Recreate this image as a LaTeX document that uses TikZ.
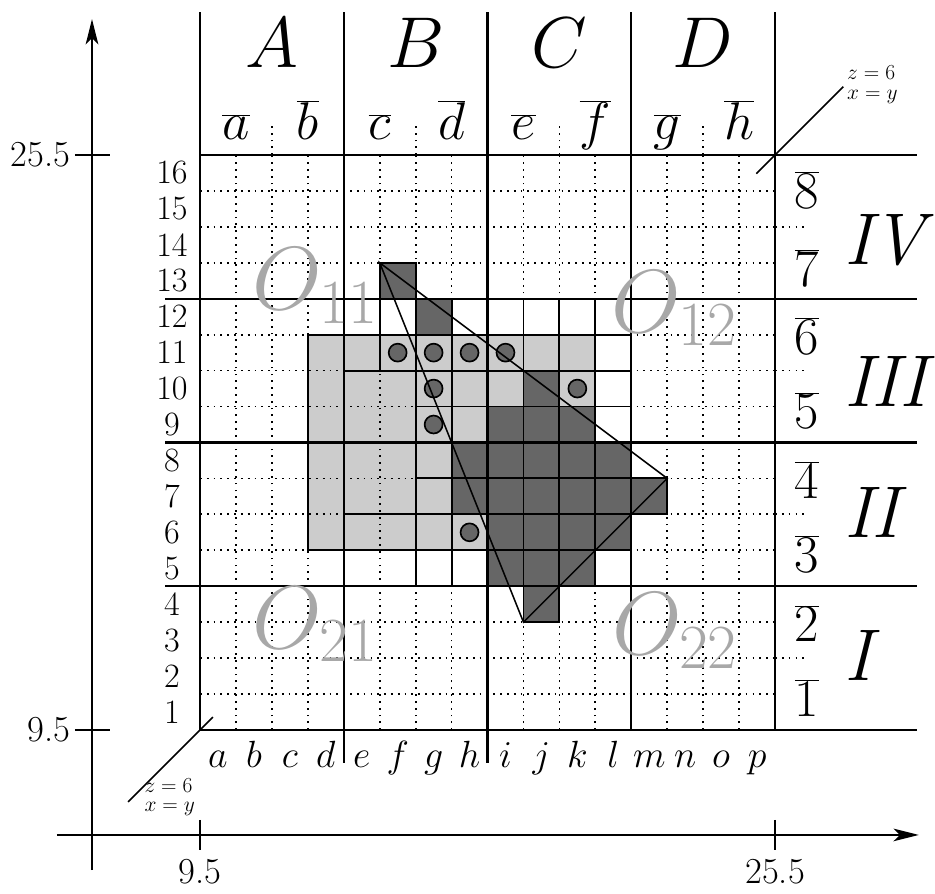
\RequirePackage{fix-cm}
\documentclass[tikz,border=0pt]{standalone}
\usetikzlibrary{arrows.meta}
\definecolor{lightc}{RGB}{204,204,204}
\definecolor{darkc}{RGB}{102,102,102}
\definecolor{lblc}{RGB}{168,168,168}
\begin{document}
\begin{tikzpicture}[
  thickln/.style={line width=1.7pt},
  cellb/.style={line width=1.5pt},
  dotln/.style={line width=1.4pt, dash pattern=on 1.4pt off 4pt},
  triln/.style={line width=1.2pt},
  axisln/.style={line width=1.4pt},
  marker/.style={circle, fill=darkc, draw=black, line width=1.3pt, minimum size=0.5cm, inner sep=0pt},
  botlbl/.style={anchor=base, inner sep=0pt, font=\fontsize{30}{36}\selectfont},
  leftlbl/.style={anchor=center, inner sep=0pt, font=\fontsize{27}{32}\selectfont},
  toplbl/.style={anchor=base, inner sep=0pt, font=\fontsize{42}{48}\selectfont},
  biglbl/.style={anchor=base, inner sep=0pt, font=\fontsize{57}{64}\selectfont},
  rdig/.style={anchor=base, inner sep=0pt, font=\fontsize{42}{48}\selectfont},
  roman/.style={anchor=base west, inner sep=0pt, font=\fontsize{58}{64}\selectfont\itshape},
  olbl/.style={anchor=base west, inner sep=0pt, text=lblc, font=\fontsize{71}{80}\selectfont},
  smalltxt/.style={anchor=north west, inner sep=0pt, align=left, font=\fontsize{17}{15.5}\selectfont},
  axlbl/.style={inner sep=0pt, font=\fontsize{29}{34}\selectfont}
]
\useasboundingbox (-5.565,-4.563) rectangle (20.451,20.312);

% light cells
\foreach \c/\r in {3/11,4/11,5/11,6/11,7/11,8/11,9/11,10/11,
                   3/10,4/10,5/10,6/10,7/10,8/10,10/10,
                   3/9,4/9,5/9,6/9,7/9,
                   3/8,4/8,5/8,6/8,
                   3/7,4/7,5/7,6/7,
                   3/6,4/6,5/6,6/6,7/6}
  \fill[lightc] (\c,\r-1) rectangle ++(1,1);

% dark cells
\foreach \c/\r in {5/13,6/12,9/10,8/9,9/9,10/9,
                   7/8,8/8,9/8,10/8,11/8,
                   7/7,8/7,9/7,10/7,11/7,12/7,
                   8/6,9/6,10/6,11/6,
                   8/5,9/5,10/5,9/4}
  \fill[darkc] (\c,\r-1) rectangle ++(1,1);

% dotted grid
\foreach \k in {1,2,3,5,6,7,9,10,11,13,14,15} {
  \draw[dotln] (\k,0) -- (\k,16);
  \draw[dotln] (0,\k) -- (16,\k);
}
% short dotted lines outside the grid
\foreach \k in {2,6,10,14} {
  \draw[dotln] (\k,16) -- (\k,16.85);
  \draw[dotln] (16,\k) -- (16.85,\k);
}

% bordered cells
\foreach \c/\r in {5/13,6/12,9/10,8/9,9/9,10/9,
                   7/8,8/8,9/8,10/8,11/8,
                   7/7,8/7,9/7,10/7,11/7,12/7,
                   8/6,9/6,10/6,11/6,
                   8/5,9/5,10/5,9/4,
                   5/12,5/11,4/11,
                   6/8,6/7,6/6,6/5,7/6}
  \draw[cellb] (\c,\r-1) rectangle ++(1,1);
\foreach \c in {6,...,11} \foreach \r in {9,...,12}
  \draw[cellb] (\c,\r-1) rectangle ++(1,1);
\draw[cellb] (4,5) rectangle (6,6);
% outline of the light region
\draw[cellb] (8,5) -- (3,5) -- (3,11) -- (11,11);

% thick grid lines
\foreach \k in {0,4,8,12,16}
  \draw[thickln] (\k,0) -- (\k,19.97);
\draw[thickln] (4,0) -- (4,-0.92);
\draw[thickln] (8,0) -- (8,-0.92);
\draw[thickln] (0,0) -- (19.95,0);
\draw[thickln] (0,16) -- (19.95,16);
\foreach \k in {4,8,12}
  \draw[thickln] (-0.97,\k) -- (19.95,\k);

% circles
\node[marker] (c1) at (5.5,10.5) {};
\node[marker] (c2) at (6.5,10.5) {};
\node[marker] (c3) at (7.5,10.5) {};
\node[marker] (c4) at (8.5,10.5) {};
\node[marker] (c5) at (6.5,9.5) {};
\node[marker] (c6) at (10.5,9.5) {};
\node[marker] (c7) at (6.5,8.5) {};
\node[marker] (c8) at (7.5,5.5) {};

% triangle
\coordinate (tA) at (5,13);
\coordinate (tB) at (13,7);
\coordinate (tC) at (9,3);
\draw[triln, line join=miter] (tA) -- (tB) -- (tC) -- cycle;

% diagonals z=6, x=y
\coordinate (d1a) at (15.48,15.48);
\coordinate (d1b) at (17.9,17.9);
\draw[triln] (d1a) -- (d1b);
\coordinate (d2a) at (-2.0,-2.0);
\coordinate (d2b) at (0.36,0.36);
\draw[triln] (d2a) -- (d2b);
\node[smalltxt] (zr) at (18.0,18.49) {$z=6$\\$x=y$};
\node[smalltxt] (zl) at (-1.55,-1.34) {$z=6$\\$x=y$};

% axes
\coordinate (yb) at (-3.005,-3.9);
\coordinate (yt) at (-3.005,19.78);
\coordinate (xl) at (-3.98,-2.92);
\coordinate (xr) at (20.0,-2.92);
\draw[axisln, -{Stealth[length=20pt,width=10pt,inset=5pt]}] (yb) -- (yt);
\draw[axisln, -{Stealth[length=20pt,width=10pt,inset=5pt]}] (xl) -- (xr);
\draw[axisln] (-3.48,16) -- (-2.5,16);
\draw[axisln] (-3.48,0) -- (-2.5,0);
\draw[axisln] (0,-2.5) -- (0,-3.34);
\draw[axisln] (16,-2.5) -- (16,-3.34);
\node[axlbl, anchor=east] (ly1) at (-3.6,16) {25.5};
\node[axlbl, anchor=east] (ly0) at (-3.6,0) {9.5};
\node[axlbl] (lx0) at (0,-3.95) {9.5};
\node[axlbl] (lx1) at (16,-3.95) {25.5};

% bottom letters
\foreach \c/\l in {0/a,1/b,2/c,3/d,4/e,5/f,6/g,7/h,8/i,9/j,10/k,11/l,12/m,13/n,14/o,15/p}
  \node[botlbl] (bot-\l) at (\c+0.5,-1.03) {$\l$};
% left numbers
\foreach \r in {1,...,16}
  \node[leftlbl] (num-\r) at (-0.78,\r-0.5) {\r};
% top letters
\foreach \x/\l in {1/a,3/b,5/c,7/d,9/e,11/f,13/g,15/h}
  \node[toplbl] (top-\l) at (\x,16.42) {$\overline{\l}$};
% group letters
\foreach \x/\l in {2/A,6/B,10/C,14/D}
  \node[biglbl] (grp-\l) at (\x,18.42) {$\l$};
% right digits
\foreach \y/\d in {14.52/8,12.35/7,10.45/6,8.38/5,6.45/4,4.38/3,2.45/2,0.38/1}
  \node[rdig] (rd-\d) at (16.89,\y) {$\overline{\d}$};
% roman numerals
\node[roman] (r4) at (17.92,12.94) {IV};
\node[roman] (r3) at (17.92,8.99) {III};
\node[roman] (r2) at (17.92,5.37) {II};
\node[roman] (r1) at (17.92,1.39) {I};
% O labels
\node[olbl] (o11) at (1.45,11.69) {$O_{11}$};
\node[olbl] (o12) at (11.44,11.07) {$O_{12}$};
\node[olbl] (o21) at (1.45,2.28) {$O_{21}$};
\node[olbl] (o22) at (11.46,2.09) {$O_{22}$};
\end{tikzpicture}
\end{document}
